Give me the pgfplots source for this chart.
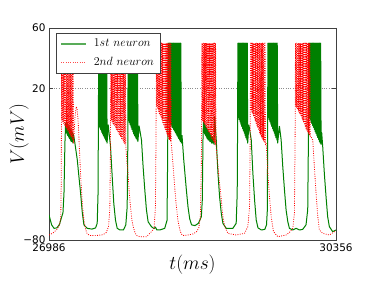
\RequirePackage{fix-cm}
\documentclass[border=0pt]{standalone}
\usepackage{fontspec}
\usepackage{pgfplots}
\pgfplotsset{compat=1.18}
\newfontfamily\dejavu{DejaVu Sans}
\definecolor{mplgreen}{rgb}{0,0.5,0}
\definecolor{spine}{gray}{0.25}
\newcommand{\legfont}{\fontsize{12}{14.5}\selectfont}
\begin{document}
\begin{tikzpicture}
\begin{axis}[
 scale only axis, width=287bp, height=212bp,
 xmin=26986, xmax=30356, ymin=-80, ymax=60,
 scaled x ticks=false,
 xtick={26986,30356}, xticklabels={26986,30356},
 ytick={-80,20,60}, yticklabels={−80,20,60},
 ymajorgrids, major grid style={black!45, dotted, line width=0.6bp},
 tick align=inside, major tick length=4bp, tick style={spine, line width=0.6bp},
 axis line style={spine, line width=0.8bp},
 ticklabel style={font=\dejavu\fontsize{10.5}{12}\selectfont},
 xlabel={$t(ms)$}, ylabel={$V(mV)$},
 label style={font=\fontsize{19.5}{23}\selectfont},
 xlabel style={at={(axis description cs:0.5,-0.118)}, anchor=center},
 ylabel style={at={(axis description cs:-0.1045,0.5)}, anchor=center},
 legend style={at={(axis description cs:0,1)}, anchor=north west, xshift=7bp, yshift=-5bp,
   draw=spine, line width=0.6bp, fill=white, font=\legfont,
   row sep=5bp, column sep=5bp, inner xsep=4bp, inner ysep=4bp, cells={anchor=west}},
 legend cell align=left,
 legend image code/.code={\draw[#1] (0bp,0bp) -- (25bp,0bp);},
]
\addplot[draw=mplgreen, color=mplgreen, line width=1bp, line join=round,
  legend image post style={draw=mplgreen!65, line width=1.6bp}] coordinates {
(26986,-63.5) (27017,-70) (27045,-72.3) (27080,-72) (27110,-69.5) (27123,-67) (27150,-62) (27162,-49) (27173,-16) (27181,-3)
(27186,-9) (27191,-2) (27196,-10) (27201,-3) (27206,-11) (27211,-4) (27216,-12) (27221,-5) (27226,-13) (27231,-6) (27236,-14) (27241,-7) (27246,-15) (27251,-8) (27256,-15) (27261,-9) (27266,-16) (27271,-10) (27279,-12) (27290,-16)
(27318,-27) (27337,-38) (27357,-49) (27377,-62) (27396,-70) (27435,-72.3) (27490,-72.8) (27533,-72) (27552,-69) (27562,-49)
(27570,50) (27574,-5) (27579,50) (27583,-6) (27587,50) (27591,-7) (27596,50) (27600,-8) (27604,50) (27608,-9) (27613,50) (27617,-10) (27621,50) (27625,-11) (27630,50) (27634,-12) (27638,50) (27642,-13) (27647,50) (27651,-14) (27655,50) (27659,-15) (27664,50) (27668,-16)
(27681,-4) (27708,-18) (27728,-38) (27747,-56) (27767,-67) (27787,-72.3) (27820,-73.4) (27860,-73.4) (27888,-70) (27904,-58) (27912,-14)
(27915,50) (27920,-1) (27925,50) (27930,-2.5) (27935,50) (27940,-4) (27945,50) (27950,-5.5) (27955,50) (27960,-7) (27965,50) (27970,-8.5) (27975,50) (27980,-10) (27985,50) (27990,-11) (27995,50) (28000,-12) (28005,50) (28010,-13) (28015,50) (28020,-14) (28025,50) (28030,-15)
(28044,-4.7) (28072,-14) (28091,-31.6) (28111,-47) (28130,-60) (28150,-68) (28189,-71.2) (28220,-72.5) (28236,-71.5) (28252,-73.4) (28286,-73.4) (28345,-72.3) (28372,-67) (28380,-20)
(28384,50) (28389,-1) (28394,50) (28399,-2) (28404,50) (28409,-3) (28414,50) (28419,-4) (28424,50) (28429,-5) (28434,50) (28439,-6) (28444,50) (28449,-7) (28454,50) (28459,-8) (28464,50) (28469,-9) (28474,50) (28479,-10) (28484,50) (28489,-11) (28494,50) (28499,-12) (28504,50) (28509,-13) (28514,50) (28519,-14) (28524,50) (28529,-15) (28534,50) (28539,-16)
(28548,-11) (28568,-27) (28599,-47) (28618,-58) (28638,-66) (28660,-70) (28700,-70.5) (28740,-69) (28775,-64.6) (28786,-53.6) (28794,-14)
(28799,-2) (28804,-9) (28809,-3) (28814,-10) (28819,-4) (28824,-11) (28829,-5) (28834,-12) (28839,-6) (28844,-13) (28849,-7) (28854,-14) (28859,-8) (28864,-14) (28869,-9) (28874,-15) (28879,-10) (28884,-15) (28889,-11) (28894,-16) (28899,-12) (28904,-16) (28909,-12) (28914,-16) (28919,-13) (28925,-17) (28931,1.5)
(28950,-14) (28970,-36) (28989,-51.4) (29009,-62.4) (29028,-69) (29067,-72.3) (29145,-72.3) (29184,-69) (29196,-49) (29200,-10)
(29204,50) (29209,1) (29214,50) (29219,-0.5) (29224,50) (29229,-2) (29234,50) (29239,-3.5) (29244,50) (29249,-5) (29254,50) (29259,-6.5) (29264,50) (29269,-8) (29274,50) (29279,-9.5) (29284,50) (29289,-11) (29294,50) (29299,-12.5) (29304,50) (29309,-14) (29314,50) (29319,-16)
(29333,-4) (29361,-14) (29380,-36) (29400,-53.6) (29419,-66.8) (29440,-72) (29480,-73.4) (29520,-73) (29540,-70) (29550,-60) (29553,-10)
(29556,50) (29561,1) (29566,50) (29571,-0.5) (29576,50) (29581,-2) (29586,50) (29591,-3.5) (29596,50) (29601,-5) (29606,50) (29611,-6.5) (29616,50) (29621,-8) (29626,50) (29631,-9.5) (29636,50) (29641,-11) (29646,50) (29651,-12.5) (29656,50) (29661,-14) (29666,50) (29671,-16)
(29692,-5) (29712,-14) (29731,-31.6) (29751,-47) (29770,-60.2) (29790,-67.9) (29809,-72.3) (29848,-73.4) (29887,-72.3) (29926,-73.4) (29965,-73) (30004,-70) (30024,-60) (30032,-14)
(30036,50) (30041,1) (30046,50) (30051,-0.3) (30056,50) (30061,-1.6) (30066,50) (30071,-3) (30076,50) (30081,-4.3) (30086,50) (30091,-5.6) (30096,50) (30101,-7) (30106,50) (30111,-8.3) (30116,50) (30121,-9.6) (30126,50) (30131,-11) (30136,50) (30141,-12.3) (30146,50) (30151,-13.6) (30156,50) (30161,-15) (30166,50) (30171,-16) (30176,50) (30181,-17)
(30188,-9) (30200,-18.4) (30219,-36) (30239,-51.4) (30258,-64.6) (30278,-71.2) (30317,-74.5) (30356,-73.4)
};
\addlegendentry{$1st\ neuron$}
\addplot[draw=red, color=red, line width=0.8bp, dash pattern=on 0.9bp off 1.4bp, line join=round,
  legend image post style={draw=red!70}] coordinates {
(26986,-76.7) (27030,-75.5) (27080,-73) (27110,-70) (27124,-65) (27130,-40)
(27134,30) (27139,-1) (27144,30) (27149,-2) (27153,30) (27158,-3) (27163,30) (27168,-4) (27173,30) (27178,-5) (27182,30) (27187,-6) (27192,30) (27197,-7) (27202,30) (27207,-8) (27212,30) (27217,-9) (27221,30) (27226,-10) (27231,30) (27236,-11) (27241,30) (27246,-12) (27250,30) (27255,-13) (27260,30) (27265,-14) (27270,30) (27275,-16)
(27290,0) (27305,8) (27315,7) (27330,-3) (27340,-16) (27358,-38) (27377,-56) (27396,-67) (27416,-73) (27435,-76) (27470,-77) (27550,-77) (27620,-76.5) (27660,-75) (27685,-71) (27700,-60) (27708,-20)
(27712,50) (27717,-1) (27722,50) (27727,-2) (27732,50) (27737,-3) (27742,50) (27747,-4) (27752,50) (27757,-5) (27762,50) (27767,-6) (27772,50) (27777,-7) (27782,50) (27787,-8) (27792,50) (27797,-9) (27802,50) (27807,-10) (27812,50) (27817,-11) (27822,50) (27827,-12) (27832,50) (27837,-13) (27842,50) (27847,-14) (27852,50) (27857,-15) (27862,50) (27867,-16) (27872,50) (27877,-16.5) (27882,50) (27887,-17)
(27900,-28) (27915,-37) (27930,-50) (27943,-58) (27960,-67) (27974,-71) (27995,-75) (28013,-77) (28052,-77.8) (28130,-77.8) (28189,-74.5) (28220,-72.3) (28236,-58) (28243,-10)
(28247,50) (28252,8) (28257,50) (28262,6.5) (28267,50) (28272,5) (28277,50) (28282,3.5) (28287,50) (28292,2) (28297,50) (28302,0.5) (28307,50) (28312,-1) (28317,50) (28322,-2.5) (28327,50) (28332,-4) (28337,50) (28342,-5.5) (28347,50) (28352,-7) (28357,50) (28362,-8.5) (28367,50) (28372,-10) (28377,50) (28382,-11.5) (28387,50) (28392,-13) (28397,50) (28402,-14) (28407,50) (28412,-15) (28417,50) (28422,-16)
(28435,-25) (28450,-36) (28466,-48) (28482,-58) (28500,-67) (28521,-73) (28540,-76) (28560,-77) (28620,-76.7) (28677,-76) (28720,-74.5) (28745,-72) (28763,-65) (28775,-30)
(28782,50) (28787,-1) (28792,50) (28797,-2) (28802,50) (28807,-3) (28812,50) (28817,-4) (28822,50) (28827,-5) (28832,50) (28837,-6.5) (28842,50) (28847,-7.5) (28852,50) (28857,-8.5) (28862,50) (28867,-9.5) (28872,50) (28877,-10.5) (28882,50) (28887,-11.5) (28892,50) (28897,-13) (28902,50) (28907,-14) (28912,50) (28917,-15) (28922,50) (28927,-16) (28932,50) (28937,-17) (28942,50) (28947,-18)
(28970,-31.6) (28989,-42.6) (29009,-53.6) (29028,-64.6) (29048,-71.2) (29087,-75.6) (29184,-76.7) (29282,-75.6) (29321,-71.2) (29341,-58) (29349,-10)
(29353,50) (29358,6) (29363,50) (29368,4.5) (29373,50) (29378,3) (29383,50) (29388,1.5) (29393,50) (29398,0) (29403,50) (29408,-1.5) (29413,50) (29418,-3) (29423,50) (29428,-4.5) (29433,50) (29438,-6) (29443,50) (29448,-7.5) (29453,50) (29458,-9) (29463,50) (29468,-10.5) (29473,50) (29478,-12) (29483,50) (29488,-13) (29493,50) (29498,-14) (29503,50) (29508,-15) (29513,50) (29518,-16) (29523,50) (29528,-17)
(29536,-16) (29556,-36) (29575,-51.4) (29595,-64.6) (29622,-74.5) (29673,-77.8) (29770,-76.7) (29809,-75) (29848,-72.3) (29868,-62.4) (29876,-10)
(29880,50) (29885,8) (29890,50) (29895,7) (29900,50) (29905,6) (29910,50) (29915,5) (29920,50) (29925,4) (29930,50) (29935,3) (29940,50) (29945,2) (29950,50) (29955,0.5) (29960,50) (29965,-1) (29970,50) (29975,-2.5) (29980,50) (29985,-4) (29990,50) (29995,-5.5) (30000,50) (30005,-7) (30010,50) (30015,-8) (30020,50) (30025,-9) (30030,50) (30035,-10) (30040,50) (30045,-11) (30050,50) (30055,-12)
(30063,-12) (30083,-14) (30102,-31.6) (30122,-49.2) (30142,-64.6) (30161,-73.4) (30200,-75.6) (30278,-76.7) (30337,-74.5) (30356,-74)
};
\addlegendentry{$2nd\ neuron$}
\end{axis}
\pgfresetboundingbox
\path[use as bounding box] ([xshift=-49bp,yshift=-42bp]current axis.south west) rectangle ([xshift=38bp,yshift=28bp]current axis.north east);
\end{tikzpicture}
\end{document}
